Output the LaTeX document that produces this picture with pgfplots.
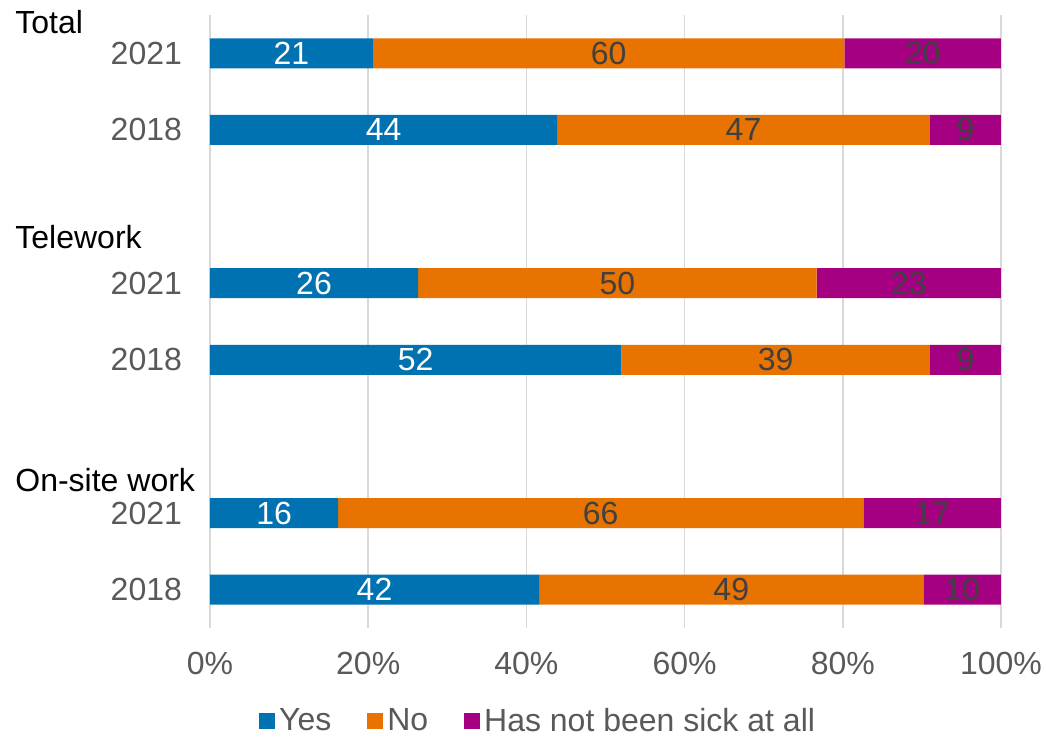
\documentclass[border=0pt]{standalone}
\usepackage{pgfplots}
\pgfplotsset{compat=1.18}
\usepackage{fontspec}
\setmainfont{Liberation Sans}
\definecolor{cYes}{RGB}{0,114,178}
\definecolor{cNo}{RGB}{233,115,0}
\definecolor{cNot}{RGB}{165,0,129}
\definecolor{tickgray}{RGB}{89,89,89}
\definecolor{labgray}{RGB}{64,64,64}
\definecolor{gridgray}{RGB}{217,217,217}
\newcommand{\ff}{\fontsize{16}{19}\selectfont}
\pgfplotsset{common/.style={
  at={(0,0)}, anchor=south west,
  scale only axis, width=395.5pt, height=306.5pt,
  xmin=0, xmax=100, ymin=-0.5, ymax=7.5, y dir=reverse}}
\begin{document}
\begin{tikzpicture}
\path[use as bounding box] (-105pt,-56.5pt) rectangle (418pt,314pt);
\begin{axis}[common,
  xbar stacked, bar width=15pt, bar shift=0pt,
  xtick={0,20,40,60,80,100},
  xticklabel={\pgfmathprintnumber{\tick}\%},
  ytick={0,1,3,4,6,7},
  yticklabels={2021,2018,2021,2018,2021,2018},
  xmajorgrids, grid style={gridgray, line width=0.8pt},
  axis line style={draw=none}, tick style={draw=none},
  font=\ff,
  ticklabel style={font=\ff, text=tickgray},
  /pgf/number format/assume math mode=true,
  xticklabel style={yshift=-8.5pt},
  yticklabel style={xshift=-10.5pt},
  legend style={draw=none, fill=none, at={(0.416,-0.152)}, anchor=center,
    legend columns=3, font=\ff, text=tickgray,
    /tikz/every even column/.append style={column sep=16pt},
    inner sep=0pt, cells={anchor=west}},
  legend image code/.code={\fill[#1] (-3.5pt,-4pt) rectangle (4.5pt,4pt);},
]
\addplot[fill=cYes, draw=none] coordinates {
 (20.6,0) (43.9,1) (26.3,3) (52.0,4) (16.2,6) (41.6,7)};
\addplot[fill=cNo, draw=none] coordinates {
 (59.6,0) (47.1,1) (50.4,3) (39.0,4) (66.4,6) (48.6,7)};
\addplot[fill=cNot, draw=none] coordinates {
 (19.8,0) (9.0,1) (23.3,3) (9.0,4) (17.4,6) (9.8,7)};
\legend{Yes, No, Has not been sick at all}
\end{axis}
\begin{axis}[common, axis lines=none, ticks=none,
  nodes near coords, point meta=explicit symbolic,
  every node near coord/.append style={anchor=center, font=\ff}]
\addplot[draw=none, mark=none, nodes near coords style={text=white}] table[meta=lab] {
x y lab
10.3 0 21
21.95 1 44
13.15 3 26
26.0 4 52
8.1 6 16
20.8 7 42
};
\addplot[draw=none, mark=none, nodes near coords style={text=labgray}] table[meta=lab] {
x y lab
50.4 0 60
67.45 1 47
51.5 3 50
71.5 4 39
49.4 6 66
65.9 7 49
};
\addplot[draw=none, mark=none, nodes near coords style={text=labgray}] table[meta=lab] {
x y lab
90.1 0 20
95.5 1 9
88.35 3 23
95.5 4 9
91.3 6 17
95.1 7 10
};
\end{axis}
\node[anchor=west, inner sep=0pt, font=\ff] at (-97.5pt,303pt) {Total};
\node[anchor=west, inner sep=0pt, font=\ff] at (-97.5pt,195.5pt) {Telework};
\node[anchor=west, inner sep=0pt, font=\ff] at (-97.5pt,74pt) {On-site work};
\end{tikzpicture}
\end{document}
